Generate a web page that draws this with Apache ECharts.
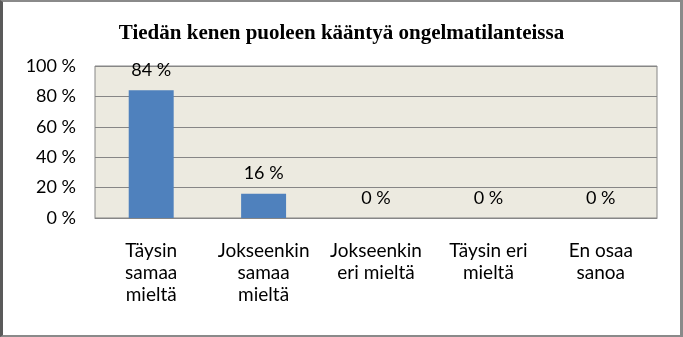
<!DOCTYPE html>
<html>
<head>
<meta charset="utf-8">
<script src="https://cdn.jsdelivr.net/npm/echarts@6/dist/echarts.min.js"></script>
<style>
  html, body { margin: 0; padding: 0; background: #fff; }
  #frame {
    box-sizing: border-box;
    width: 683px; height: 337px;
    border-top: 2px solid #8a8a8a;
    border-right: 3px solid #8a8a8a;
    border-bottom: 2px solid #8a8a8a;
    border-left: 3px solid #5a5a5a;
  }
  #chart { width: 677px; height: 333px; }
</style>
</head>
<body>
<div id="frame"><div id="chart"></div></div>
<script>
const titleText = 'Tiedän kenen puoleen kääntyä ongelmatilanteissa';
const categories = [
  'Täysin\nsamaa\nmieltä',
  'Jokseenkin\nsamaa\nmieltä',
  'Jokseenkin\neri mieltä',
  'Täysin eri\nmieltä',
  'En osaa\nsanoa'
];
const shares = [84, 16, 0, 0, 0];
const yTicks = [0, 20, 40, 60, 80, 100];

const font = 'Lato, "Open Sans", sans-serif';
const chart = echarts.init(document.getElementById('chart'));
chart.setOption({
  animation: false,
  title: {
    text: titleText,
    left: 'center',
    top: 16,
    textStyle: {
      fontFamily: '"Liberation Serif", serif',
      fontWeight: 'bold',
      fontSize: 21,
      color: '#000'
    }
  },
  grid: { left: 92, right: 23, top: 64, bottom: 117, containLabel: false,
          show: true, backgroundColor: '#ECEAE0', borderColor: '#868686', borderWidth: 1 },
  xAxis: {
    type: 'category',
    data: categories,
    axisLine: { lineStyle: { color: '#868686' } },
    axisTick: { show: false },
    axisLabel: {
      color: '#000', fontFamily: font, fontSize: 19,
      lineHeight: 22, margin: 22, interval: 0, align: 'center'
    }
  },
  yAxis: {
    type: 'value',
    min: yTicks[0],
    max: yTicks[yTicks.length - 1],
    interval: 20,
    axisLine: { show: false },
    axisTick: { show: false },
    splitLine: { lineStyle: { color: '#868686' } },
    axisLabel: {
      color: '#000', fontFamily: font, fontSize: 18, margin: 19,
      formatter: v => v + ' %'
    }
  },
  series: [{
    type: 'bar',
    data: shares,
    barWidth: '40%',
    itemStyle: { color: '#4F81BD' },
    label: {
      show: true,
      position: 'top',
      distance: 11,
      color: '#000',
      fontFamily: font,
      fontSize: 18,
      formatter: p => p.value + ' %'
    }
  }]
});
</script>
</body>
</html>
